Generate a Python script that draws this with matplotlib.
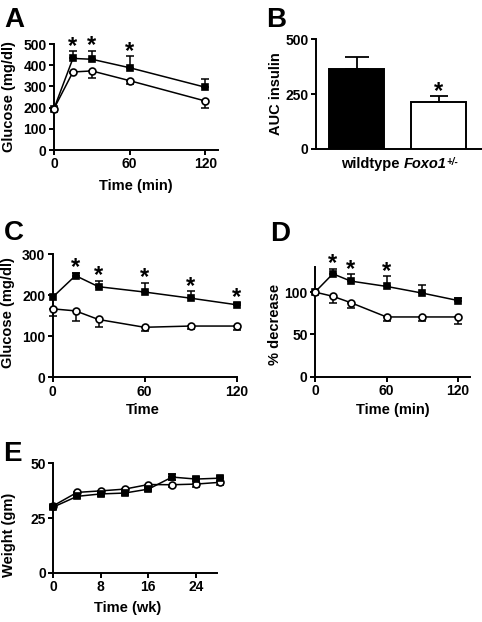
import matplotlib
matplotlib.use('Agg')
import matplotlib.pyplot as plt
import numpy as np

plt.rcParams['font.family'] = ['Liberation Sans', 'DejaVu Sans']
plt.rcParams['font.weight'] = 'bold'
plt.rcParams['font.size'] = 10

W, H = 482, 622

# ---- Panel A: glucose tolerance ----
a_time = [0, 15, 30, 60, 120]
a_wt = [195, 432, 428, 388, 296]
a_wt_err = [0, 35, 40, 54, 40]
a_ko = [195, 368, 373, 327, 231]
a_ko_err = [0, 5, 32, 17, 34]
a_sig = [15, 30, 60]

# ---- Panel B: AUC insulin ----
b_groups = ['wildtype', 'Foxo1']
b_auc = [364, 213]
b_err = [56, 27]
b_sig = [False, True]

# ---- Panel C: insulin tolerance, glucose ----
c_time = [0, 15, 30, 60, 90, 120]
c_wt = [195, 248, 221, 208, 193, 177]
c_wt_err = [0, 7, 15, 23, 17, 5]
c_ko = [167, 162, 141, 122, 125, 125]
c_ko_err = [17, 24, 19, 8, 8, 10]
c_sig = [15, 30, 60, 90, 120]

# ---- Panel D: % decrease ----
d_time = [0, 15, 30, 60, 90, 120]
d_wt = [100, 121.6, 113, 106.7, 98.8, 90]
d_wt_err = [0, 6, 8, 12, 9, 3]
d_ko = [100, 95, 87.5, 70.6, 70.6, 70.6]
d_ko_err = [0, 8, 6, 5, 5, 8]
d_sig = [15, 30, 60]

# ---- Panel E: body weight ----
e_week = [0, 4, 8, 12, 16, 20, 24, 28]
e_wt = [30, 34.9, 36, 36.4, 38.2, 43.7, 42.8, 43.2]
e_wt_err = [1, 0.8, 0.8, 0.8, 0.8, 1.5, 1, 1.2]
e_ko = [30.6, 36.7, 37.4, 38.2, 40.3, 40.2, 40.5, 41.3]
e_ko_err = [1, 0.8, 0.8, 0.8, 0.8, 1.2, 1.2, 1.2]

fig = plt.figure(figsize=(W / 100, H / 100), dpi=100)

LW = 1.4
SQ = 4.7
CI = 5.0


def make_ax(l, r, t, b):
    ax = fig.add_axes([l / W, 1 - b / H, (r - l) / W, (b - t) / H])
    ax.spines[['top', 'right']].set_visible(False)
    ax.spines[['left', 'bottom']].set_linewidth(LW)
    ax.tick_params(width=LW, length=3.8, pad=1.5, labelsize=10)
    return ax


def series(ax, x, y, err, marker, face, up, ms, z):
    x = np.asarray(x, float)
    y = np.asarray(y, float)
    err = np.asarray(err, float)
    m = err > 0
    zeros = np.zeros(m.sum())
    yerr = [zeros, err[m]] if up else [err[m], zeros]
    ax.errorbar(x[m], y[m], yerr=yerr, fmt='none', ecolor='k', elinewidth=1.1,
                capsize=2.6, capthick=1.1, clip_on=False, zorder=z)
    ax.plot(x, y, '-', color='k', lw=1.1, marker=marker, ms=ms, mfc=face,
            mec='k', mew=1.2, clip_on=False, zorder=z + 0.5)


def star(ax, x, top):
    ax.annotate('*', (x, top), xytext=(0, -1.2), textcoords='offset points',
                ha='center', va='baseline', fontsize=17, fontweight='bold',
                annotation_clip=False)


def stars(ax, xs, x, tops):
    for xi in xs:
        i = list(x).index(xi)
        star(ax, xi, tops[i])


def ftext(x, y, s, **kw):
    fig.text(x / W, 1 - y / H, s, fontweight='bold', **kw)


# Panel A
axA = make_ax(54, 218, 44, 150)
series(axA, a_time, a_wt, a_wt_err, 's', 'k', True, SQ, 3)
series(axA, a_time, a_ko, a_ko_err, 'o', 'w', False, CI, 4)
axA.set_xlim(0, 130)
axA.set_ylim(0, 500)
axA.set_xticks([0, 60, 120])
axA.set_yticks([0, 100, 200, 300, 400, 500])
stars(axA, a_sig, a_time, np.array(a_wt) + np.array(a_wt_err))

# Panel B
axB = make_ax(316, 482, 39.3, 149)
axB.bar([0, 1], b_auc, width=0.67, color=['k', 'w'], edgecolor='k', linewidth=LW, zorder=3)
for i, cs in enumerate([8.5, 6.5]):
    axB.errorbar([i], [b_auc[i]], yerr=[[0], [b_err[i]]], fmt='none', ecolor='k',
                 elinewidth=1.3, capsize=cs, capthick=1.3, zorder=2)
axB.set_xlim(-0.5, 1.53)
axB.set_ylim(0, 500)
axB.set_xticks([])
axB.set_yticks([0, 250, 500])
for i, s in enumerate(b_sig):
    if s:
        star(axB, i, b_auc[i] + b_err[i])

# Panel C
axC = make_ax(52.5, 236.5, 254.3, 377.3)
series(axC, c_time, c_wt, c_wt_err, 's', 'k', True, SQ, 3)
series(axC, c_time, c_ko, c_ko_err, 'o', 'w', False, CI, 4)
axC.set_xlim(0, 120)
axC.set_ylim(0, 300)
axC.set_xticks([0, 60, 120])
axC.set_yticks([0, 100, 200, 300])
stars(axC, c_sig, c_time, np.array(c_wt) + np.maximum(np.array(c_wt_err), 4))

# Panel D
axD = make_ax(315, 470, 266.7, 376.7)
series(axD, d_time, d_wt, d_wt_err, 's', 'k', True, SQ, 3)
series(axD, d_time, d_ko, d_ko_err, 'o', 'w', False, CI, 4)
axD.set_xlim(0, 130)
axD.set_ylim(0, 130)
axD.set_xticks([0, 60, 120])
axD.set_yticks([0, 50, 100])
stars(axD, d_sig, d_time, np.array(d_wt) + np.array(d_wt_err))

# Panel E
axE = make_ax(53.3, 217.3, 463.3, 572.7)
series(axE, e_week, e_ko, e_ko_err, 'o', 'w', False, CI, 3)
series(axE, e_week, e_wt, e_wt_err, 's', 'k', True, SQ, 4)
e_wt_dn = np.array(e_wt_err)
axE.errorbar(e_week, e_wt, yerr=[e_wt_dn, np.zeros(len(e_wt_dn))], fmt='none', ecolor='k',
             elinewidth=1.1, capsize=2.6, capthick=1.1, clip_on=False, zorder=3)
axE.set_xlim(0, 27.6)
axE.set_ylim(0, 50)
axE.set_xticks([0, 8, 16, 24])
axE.set_yticks([0, 25, 50])

# Axis labels
ftext(9, 97, 'Glucose (mg/dl)', rotation=90, ha='center', va='center', fontsize=10.5)
ftext(136, 186, 'Time (min)', ha='center', va='center', fontsize=10.5)
ftext(276, 94, 'AUC insulin', rotation=90, ha='center', va='center', fontsize=10.5)
ftext(8.5, 313, 'Glucose (mg/dl)', rotation=90, ha='center', va='center', fontsize=10.5)
ftext(143, 410, 'Time', ha='center', va='center', fontsize=10.5)
ftext(275, 324, '% decrease', rotation=90, ha='center', va='center', fontsize=10.5)
ftext(393, 410, 'Time (min)', ha='center', va='center', fontsize=10.5)
ftext(9, 535, 'Weight (gm)', rotation=90, ha='center', va='center', fontsize=10.5)
ftext(128, 608, 'Time (wk)', ha='center', va='center', fontsize=10.5)

# B group label: wildtype Foxo1^{+/-}
t1 = fig.text(341 / W, 1 - 168 / H, b_groups[0] + ' ', fontweight='bold', fontsize=10.5,
              ha='left', va='baseline')
t2 = plt.annotate(b_groups[1], xy=(1, 0), xycoords=t1, ha='left', va='bottom',
                  fontsize=10.5, fontweight='bold', fontstyle='italic', annotation_clip=False)
plt.annotate('+/-', xy=(1, 1), xycoords=t2, xytext=(0, 0), textcoords='offset points',
             ha='left', va='top', fontsize=7, fontweight='bold', fontstyle='italic',
             annotation_clip=False)

# Panel letters
for s, x, y in [('A', 4.5, 27), ('B', 266.5, 27), ('C', 3.5, 239.5), ('D', 270, 241), ('E', 3.5, 461)]:
    ftext(x, y, s, fontsize=20, ha='left', va='baseline')

fig.savefig('out.png', dpi=100)
